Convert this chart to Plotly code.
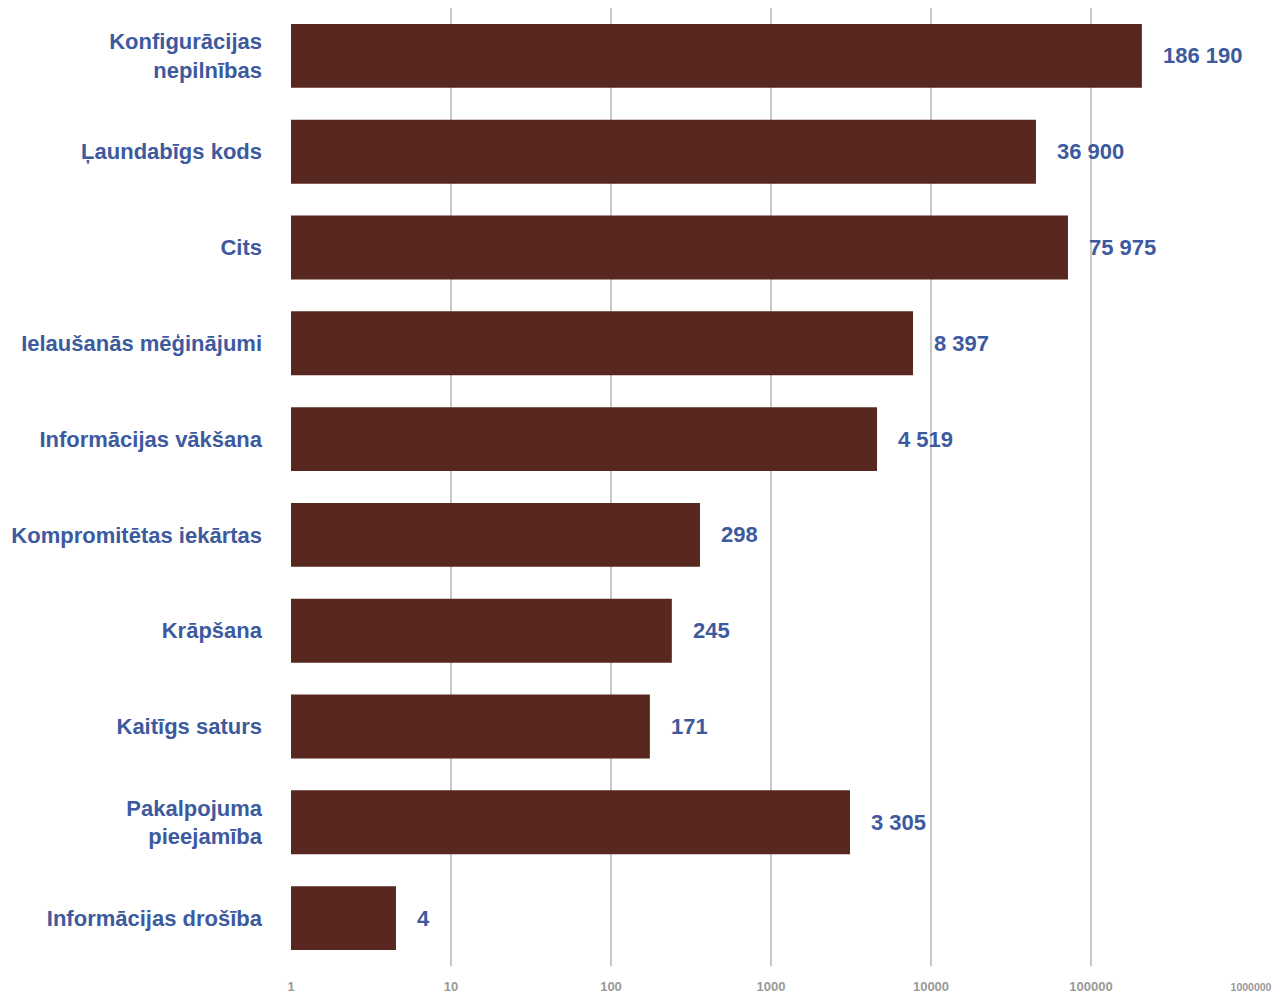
import math
import plotly.graph_objects as go

categories = [
    "Konfigurācijas<br>nepilnības",
    "Ļaundabīgs kods",
    "Cits",
    "Ielaušanās mēģinājumi",
    "Informācijas vākšana",
    "Kompromitētas iekārtas",
    "Krāpšana",
    "Kaitīgs saturs",
    "Pakalpojuma<br>pieejamība",
    "Informācijas drošība",
]
# bar lengths (log scale)
bar_values = [208000, 45300, 71800, 7720, 4600, 360, 240, 175, 3117, 4.53]
# value labels as printed on the chart
value_labels = ["186 190", "36 900", "75 975", "8 397", "4 519", "298", "245", "171", "3 305", "4"]
tick_values = [1, 10, 100, 1000, 10000, 100000, 1000000]
tick_labels = ["1", "10", "100", "1000", "10000", "100000", "1000000"]

BAR = "#582720"
BLUE = "#3d5a9e"
FONT = "Liberation Sans, Arial, sans-serif"

fig = go.Figure(go.Bar(
    x=bar_values, y=categories, orientation="h",
    marker=dict(color=BAR, line=dict(width=0)),
    hoverinfo="skip",
))

for v, c, t in zip(bar_values, categories, value_labels):
    fig.add_annotation(
        x=math.log10(v), y=c, text="<b>%s</b>" % t, showarrow=False,
        xanchor="left", yanchor="middle", xshift=19,
        font=dict(family=FONT, size=22, color=BLUE),
    )

# the last tick label sits at the right edge; draw it slightly smaller so it fits
tick_text = []
for i, t in enumerate(tick_labels):
    if i == len(tick_labels) - 1:
        tick_text.append("<b><span style='font-size:10.5px'>%s</span></b>" % t)
    else:
        tick_text.append("<b>%s</b>" % t)

fig.update_layout(
    width=1272, height=985,
    margin=dict(l=283, r=29, t=0, b=27, autoexpand=False),
    paper_bgcolor="white", plot_bgcolor="white",
    showlegend=False, bargap=0.333,
    font=dict(family=FONT),
)
fig.update_xaxes(
    type="log", range=[0, 6], automargin=False,
    tickvals=tick_values, ticktext=tick_text,
    tickfont=dict(family=FONT, size=13, color="#999999"),
    showgrid=True, gridcolor="#c8c8c8", gridwidth=1.5,
    zeroline=False, showline=False, ticks="", ticklabelstandoff=11,
    ticklabeloverflow="allow",
)
fig.update_yaxes(
    autorange="reversed", automargin=False,
    tickvals=categories,
    ticktext=["<b>%s</b>" % c for c in categories],
    tickfont=dict(family=FONT, size=22, color=BLUE),
    showgrid=False, zeroline=False, showline=False, ticks="",
    ticklabelstandoff=28,
)

fig.write_html("out.html")
